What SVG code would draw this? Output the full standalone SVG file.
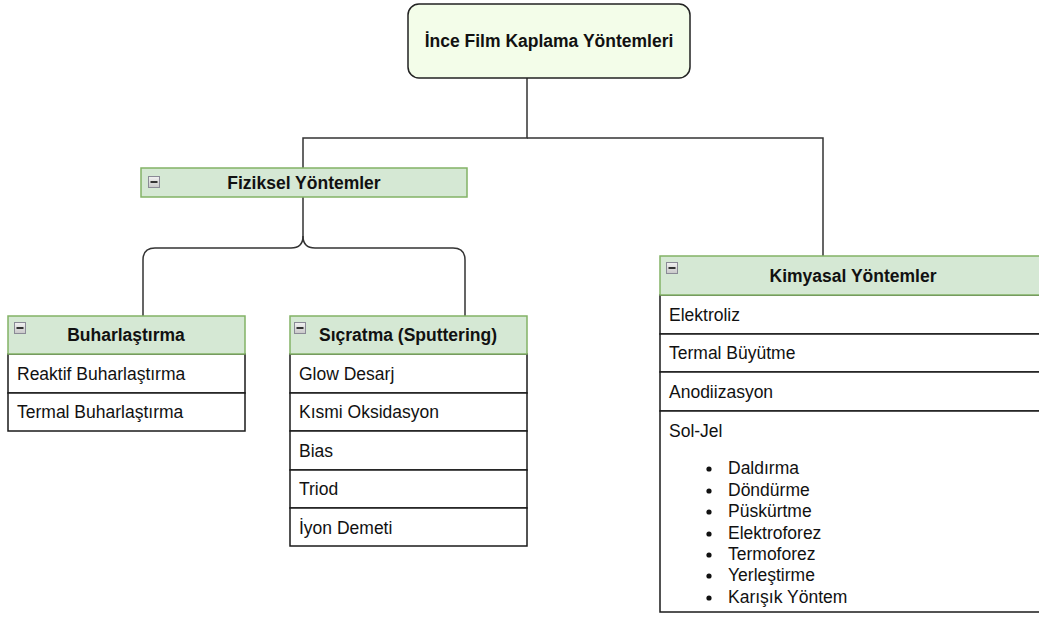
<svg xmlns="http://www.w3.org/2000/svg" width="1039" height="617" viewBox="0 0 1039 617">
  <defs>
    <linearGradient id="ig" x1="0" y1="0" x2="0" y2="1">
      <stop offset="0" stop-color="#f2f2f2"/>
      <stop offset="1" stop-color="#c8c8c8"/>
    </linearGradient>
    <symbol id="minus" viewBox="0 0 12 12">
      <rect x="0.5" y="0.5" width="11" height="11" fill="url(#ig)" stroke="#8a8a96" stroke-width="1"/>
      <rect x="2.5" y="5" width="7" height="2" fill="#333"/>
    </symbol>
  </defs>
  <style>
    text { font-family: "Liberation Sans", Arial, sans-serif; font-size: 17.5px; fill: #111; }
    .b { font-weight: bold; }
    .hdr { fill: #d5e8d4; stroke: #82b366; stroke-width: 1.5; }
    .row { fill: #ffffff; stroke: #1a1a1a; stroke-width: 1.5; }
    .conn { fill: none; stroke: #333; stroke-width: 1.5; }
  </style>
  <rect width="1039" height="617" fill="#ffffff"/>

  <g id="connectors">
    <path class="conn" d="M527,78 V138 H303 V168"/>
    <path class="conn" d="M527,138 H823 V256"/>
    <path class="conn" d="M303,197 V236 Q303,248 291,248 H155 Q143,248 143,260 V316"/>
    <path class="conn" d="M303,236 Q303,248 315,248 H453 Q465,248 465,260 V316"/>
  </g>

  <g id="root">
    <rect x="408" y="4" width="282" height="74" rx="11" fill="#f3fde9" stroke="#222" stroke-width="1.5"/>
    <text class="b" x="549" y="47" text-anchor="middle">İnce Film Kaplama Yöntemleri</text>
  </g>

  <g id="fiziksel">
    <rect class="hdr" x="141" y="168" width="326" height="29"/>
    <use href="#minus" x="148" y="176" width="12" height="12"/>
    <text class="b" x="304" y="189" text-anchor="middle">Fiziksel Yöntemler</text>
  </g>

  <g id="buharlastirma">
    <rect class="row" x="8" y="354" width="237" height="39"/>
    <rect class="row" x="8" y="393" width="237" height="38"/>
    <rect class="hdr" x="8" y="316" width="237" height="38"/>
    <use href="#minus" x="14" y="322" width="12" height="12"/>
    <text class="b" x="126" y="341" text-anchor="middle">Buharlaştırma</text>
    <text x="17" y="380">Reaktif Buharlaştırma</text>
    <text x="17" y="418">Termal Buharlaştırma</text>
  </g>

  <g id="sicratma">
    <rect class="row" x="290" y="354" width="237" height="39"/>
    <rect class="row" x="290" y="393" width="237" height="38"/>
    <rect class="row" x="290" y="431" width="237" height="39"/>
    <rect class="row" x="290" y="470" width="237" height="38"/>
    <rect class="row" x="290" y="508" width="237" height="38"/>
    <rect class="hdr" x="290" y="316" width="237" height="38"/>
    <use href="#minus" x="294" y="322" width="12" height="12"/>
    <text class="b" x="408" y="341" text-anchor="middle">Sıçratma (Sputtering)</text>
    <text x="299" y="380">Glow Desarj</text>
    <text x="299" y="418">Kısmi Oksidasyon</text>
    <text x="299" y="457">Bias</text>
    <text x="299" y="495">Triod</text>
    <text x="299" y="534">İyon Demeti</text>
  </g>

  <g id="kimyasal">
    <rect class="row" x="660" y="295" width="386" height="39"/>
    <rect class="row" x="660" y="334" width="386" height="38"/>
    <rect class="row" x="660" y="372" width="386" height="39"/>
    <rect class="row" x="660" y="411" width="386" height="201"/>
    <rect class="hdr" x="660" y="256" width="386" height="39"/>
    <use href="#minus" x="666" y="262" width="12" height="12"/>
    <text class="b" x="853" y="282" text-anchor="middle">Kimyasal Yöntemler</text>
    <text x="669" y="321">Elektroliz</text>
    <text x="669" y="359">Termal Büyütme</text>
    <text x="669" y="398">Anodiizasyon</text>
    <text x="669" y="437">Sol-Jel</text>
    <g fill="#111">
      <circle cx="709" cy="469" r="2.6"/>
      <circle cx="709" cy="491" r="2.6"/>
      <circle cx="709" cy="512" r="2.6"/>
      <circle cx="709" cy="534" r="2.6"/>
      <circle cx="709" cy="555" r="2.6"/>
      <circle cx="709" cy="576" r="2.6"/>
      <circle cx="709" cy="598" r="2.6"/>
    </g>
    <text x="728" y="474">Daldırma</text>
    <text x="728" y="496">Döndürme</text>
    <text x="728" y="517">Püskürtme</text>
    <text x="728" y="539">Elektroforez</text>
    <text x="728" y="560">Termoforez</text>
    <text x="728" y="581">Yerleştirme</text>
    <text x="728" y="603">Karışık Yöntem</text>
  </g>
</svg>
